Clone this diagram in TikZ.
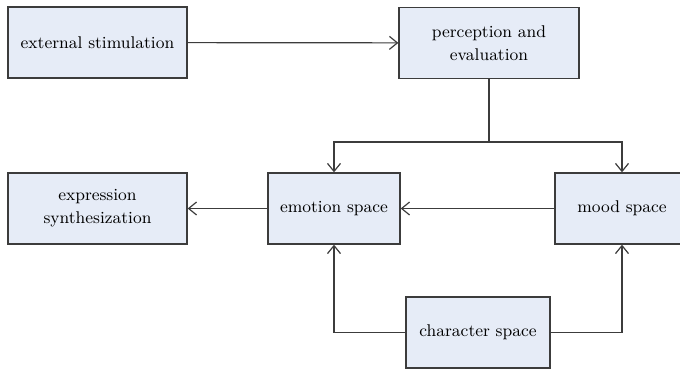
\documentclass[tikz,border=0pt]{standalone}
\usepackage{xcolor}
\usepackage{tikz}
\usetikzlibrary{calc,arrows.meta}
\definecolor{boxfill}{HTML}{E6ECF7}
\definecolor{boxline}{HTML}{3C3C3C}
\tikzset{block/.style={draw=boxline, fill=boxfill, line width=0.65pt, inner sep=0pt, align=center, minimum height=35.5pt, font=\fontsize{8.5}{11.5}\selectfont}}
\tikzset{link/.style={draw=boxline, line width=0.6pt, -{Straight Barb[length=4pt,width=6.5pt]}}}

\begin{document}
\begin{tikzpicture}[x=0.5pt,y=-0.5pt]

        \clip (0,0) rectangle (680,369);
%        \draw[style=help lines, step=20] (0,0) grid (680,369);

				\node[block, minimum width=89.5pt] (ext) at (97.5,42.5) {external stimulation};
				\node[block, minimum width=90pt] (perc) at (489,43) {perception and\\evaluation};
				\node[block, minimum width=89.5pt] (expr) at (97.5,208.5) {expression\\synthesization};
				\node[block, minimum width=66pt] (emo) at (334,208.5) {emotion space};
				\node[block, minimum width=67pt] (mood) at (622,208.5) {mood space};
				\node[block, minimum width=72pt] (char) at (478,332.5) {character space};
				\coordinate (split) at (489,142);

				\draw[link]  (ext) -- (perc);
				\draw[link,-]  (perc) -- (split);
				\draw[link]  (split) -| (emo);
				\draw[link]  (split) -| (mood);
				\draw[link]  (mood) -- (emo);
				\draw[link]  (emo) -- (expr);
				\draw[link]  (char) -| (emo);
				\draw[link]  (char) -| (mood);

    \end{tikzpicture}
\end{document}
